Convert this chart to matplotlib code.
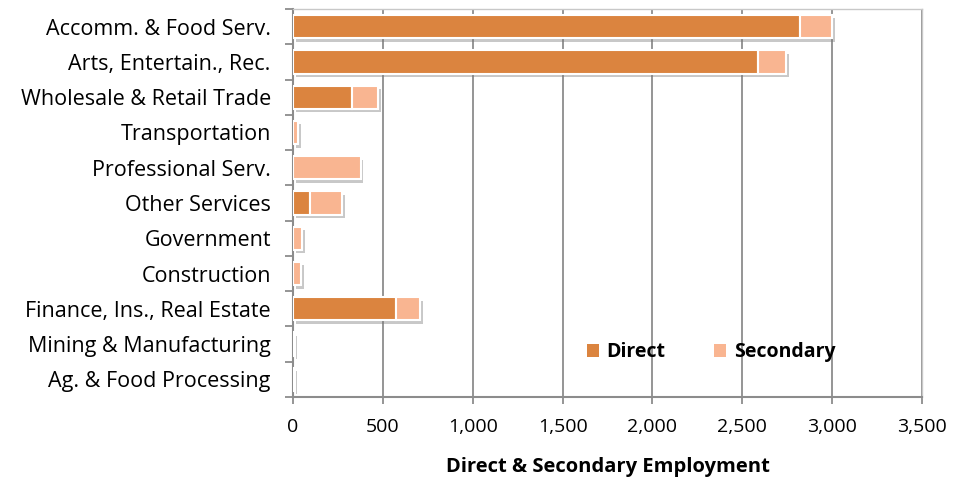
import matplotlib
matplotlib.use("Agg")
import matplotlib.pyplot as plt
import matplotlib.patheffects as pe
from matplotlib.ticker import FuncFormatter, FixedLocator
import numpy as np

categories = ["Accomm. & Food Serv.", "Arts, Entertain., Rec.", "Wholesale & Retail Trade",
              "Transportation", "Professional Serv.", "Other Services", "Government",
              "Construction", "Finance, Ins., Real Estate", "Mining & Manufacturing",
              "Ag. & Food Processing"]
direct = [2820, 2588, 331, 0, 0, 96, 0, 0, 572, 0, 0]
secondary = [180, 155, 142, 30, 376, 178, 52, 43, 137, 6, 5]
x_ticks = [0, 500, 1000, 1500, 2000, 2500, 3000, 3500]

plt.rcParams['font.family'] = ['Open Sans', 'DejaVu Sans']

fig = plt.figure(figsize=(9.56, 4.78), dpi=100)
ax = fig.add_axes([293/956, 1 - 397/478, (922-293)/956, (397-9)/478])

y = np.arange(len(categories))
c_direct = "#DB843F"
c_sec = "#F9B591"
shadow = [pe.SimplePatchShadow(offset=(2, -2.5), shadow_rgbFace="#777777", alpha=0.4), pe.Normal()]

ax.barh(y, direct, height=0.66, color=c_direct, edgecolor="white", linewidth=1.5,
        label="Direct", zorder=3, path_effects=shadow)
ax.barh(y, secondary, left=direct, height=0.66, color=c_sec, edgecolor="white",
        linewidth=1.5, label="Secondary", zorder=3, path_effects=shadow)

ax.set_xlim(0, 3500)
ax.set_ylim(len(categories) - 0.5, -0.5)
ax.set_xticks(x_ticks)
ax.xaxis.set_major_formatter(FuncFormatter(lambda v, p: f"{int(v):,}"))
ax.set_yticks(y)
ax.set_yticklabels(categories)
ax.yaxis.set_minor_locator(FixedLocator(np.arange(-0.5, len(categories), 1)))
ax.tick_params(axis='y', which='major', length=0, pad=16, labelsize=15.5)
ax.tick_params(axis='y', which='minor', length=6, width=1.3, color="#8c8c8c", direction='out')
ax.tick_params(axis='x', which='major', length=5, width=1.3, color="#8c8c8c", labelsize=14, pad=10)

ax.grid(axis='x', color="#8c8c8c", linewidth=1.3, zorder=0)
ax.set_axisbelow(True)
for s in ["top", "right"]:
    ax.spines[s].set_color("#c8c8c8")
    ax.spines[s].set_linewidth(1.0)
for s in ["left", "bottom"]:
    ax.spines[s].set_color("#8c8c8c")
    ax.spines[s].set_linewidth(1.5)

ax.set_xlabel("Direct & Secondary Employment", fontsize=14.5, fontweight='bold', labelpad=15)

leg = ax.legend(loc="center", bbox_to_anchor=(0.665, 0.115), ncol=2, frameon=False,
                handlelength=0.6, handleheight=0.6, handletextpad=0.4, columnspacing=2.5,
                prop={'size': 14, 'weight': 'bold'})
for h in leg.legend_handles:
    h.set_path_effects([])
    h.set_edgecolor("none")

fig.savefig("out.png", dpi=100)
